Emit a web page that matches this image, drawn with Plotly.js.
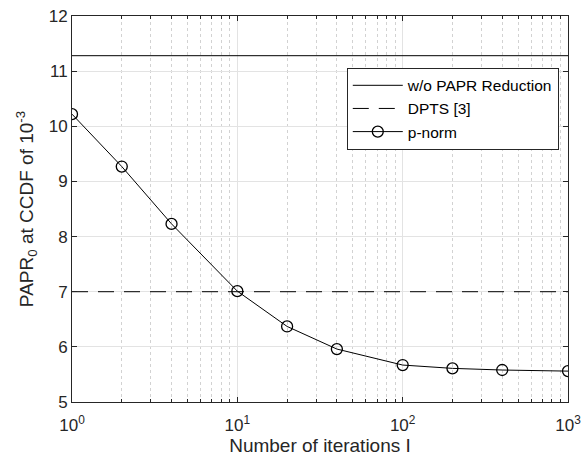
<!DOCTYPE html>
<html>
<head>
<meta charset="utf-8">
<script src="https://cdn.plot.ly/plotly-3.0.1.min.js"></script>
<style>html,body{margin:0;padding:0;background:#fff;}#chart{width:583px;height:460px;}</style>
</head>
<body>
<div id="chart"></div>
<script>
// Data
const iterations = [1, 2, 4, 10, 20, 40, 100, 200, 400, 1000];
const pnormPAPR = [10.22, 9.27, 8.23, 7.01, 6.37, 5.96, 5.67, 5.61, 5.58, 5.56];
const refX = [1, 1000];
const noReductionPAPR = [11.28, 11.28];
const dptsPAPR = [7.0, 7.0];
const seriesNames = ['w/o PAPR Reduction', 'DPTS [3]', 'p-norm'];
const xTickVals = [1, 10, 100, 1000];
const xTickText = ['10<sup>0</sup>', '10<sup>1</sup>', '10<sup>2</sup>', '10<sup>3</sup>'];
const xMinorTickVals = [2, 3, 4, 5, 6, 7, 8, 9, 20, 30, 40, 50, 60, 70, 80, 90, 200, 300, 400, 500, 600, 700, 800, 900];
const yTickVals = [5, 6, 7, 8, 9, 10, 11, 12];

const fam = 'Liberation Sans, Arial, sans-serif';
const tickFont = {family: fam, size: 17, color: '#262626'};
const titleFont = {family: fam, size: 19, color: '#262626'};

const traces = [
  {x: refX, y: noReductionPAPR, name: seriesNames[0], mode: 'lines',
   line: {color: '#000', width: 1}},
  {x: refX, y: dptsPAPR, name: seriesNames[1], mode: 'lines',
   line: {color: '#000', width: 1, dash: '16px,10px'}},
  {x: iterations, y: pnormPAPR, name: seriesNames[2], mode: 'lines+markers',
   line: {color: '#000', width: 1},
   marker: {symbol: 'circle-open', size: 11, color: '#000', line: {width: 1.3, color: '#000'}}}
];

const layout = {
  width: 583, height: 460,
  margin: {l: 72, r: 15, t: 16, b: 58, pad: 0},
  paper_bgcolor: '#fff', plot_bgcolor: '#fff',
  font: tickFont,
  showlegend: true,
  legend: {x: 0.554, y: 0.866, xanchor: 'left', yanchor: 'top',
    bgcolor: '#fff', bordercolor: '#262626', borderwidth: 1,
    font: {family: fam, size: 15.5, color: '#000'},
    itemwidth: 50, tracegroupgap: 0},
  xaxis: {
    type: 'log', range: [0, 3],
    tickmode: 'array', tickvals: xTickVals, ticktext: xTickText,
    ticks: 'inside', ticklen: 5, tickcolor: '#262626',
    ticklabelstandoff: 8,
    showline: true, linecolor: '#262626', linewidth: 1, mirror: 'ticks',
    showgrid: true, gridcolor: '#e3e3e3', gridwidth: 1,
    zeroline: false,
    minor: {tickmode: 'array', tickvals: xMinorTickVals, ticks: 'inside', ticklen: 3,
            tickcolor: '#262626', showgrid: true,
            gridcolor: '#d2d2d2', griddash: 'dot', gridwidth: 1},
    title: {text: 'Number of iterations I', font: titleFont, standoff: 0},
    tickfont: tickFont
  },
  yaxis: {
    range: [5, 12],
    tickmode: 'array', tickvals: yTickVals,
    ticks: 'inside', ticklen: 5, tickcolor: '#262626',
    showline: true, linecolor: '#262626', linewidth: 1, mirror: 'ticks',
    showgrid: true, gridcolor: '#e3e3e3', gridwidth: 1,
    zeroline: false,
    title: {text: 'PAPR<sub>0</sub> at CCDF of 10<sup>-3</sup>', font: titleFont, standoff: 10},
    tickfont: tickFont
  }
};

Plotly.newPlot('chart', traces, layout, {displayModeBar: false, staticPlot: true});
</script>
</body>
</html>
